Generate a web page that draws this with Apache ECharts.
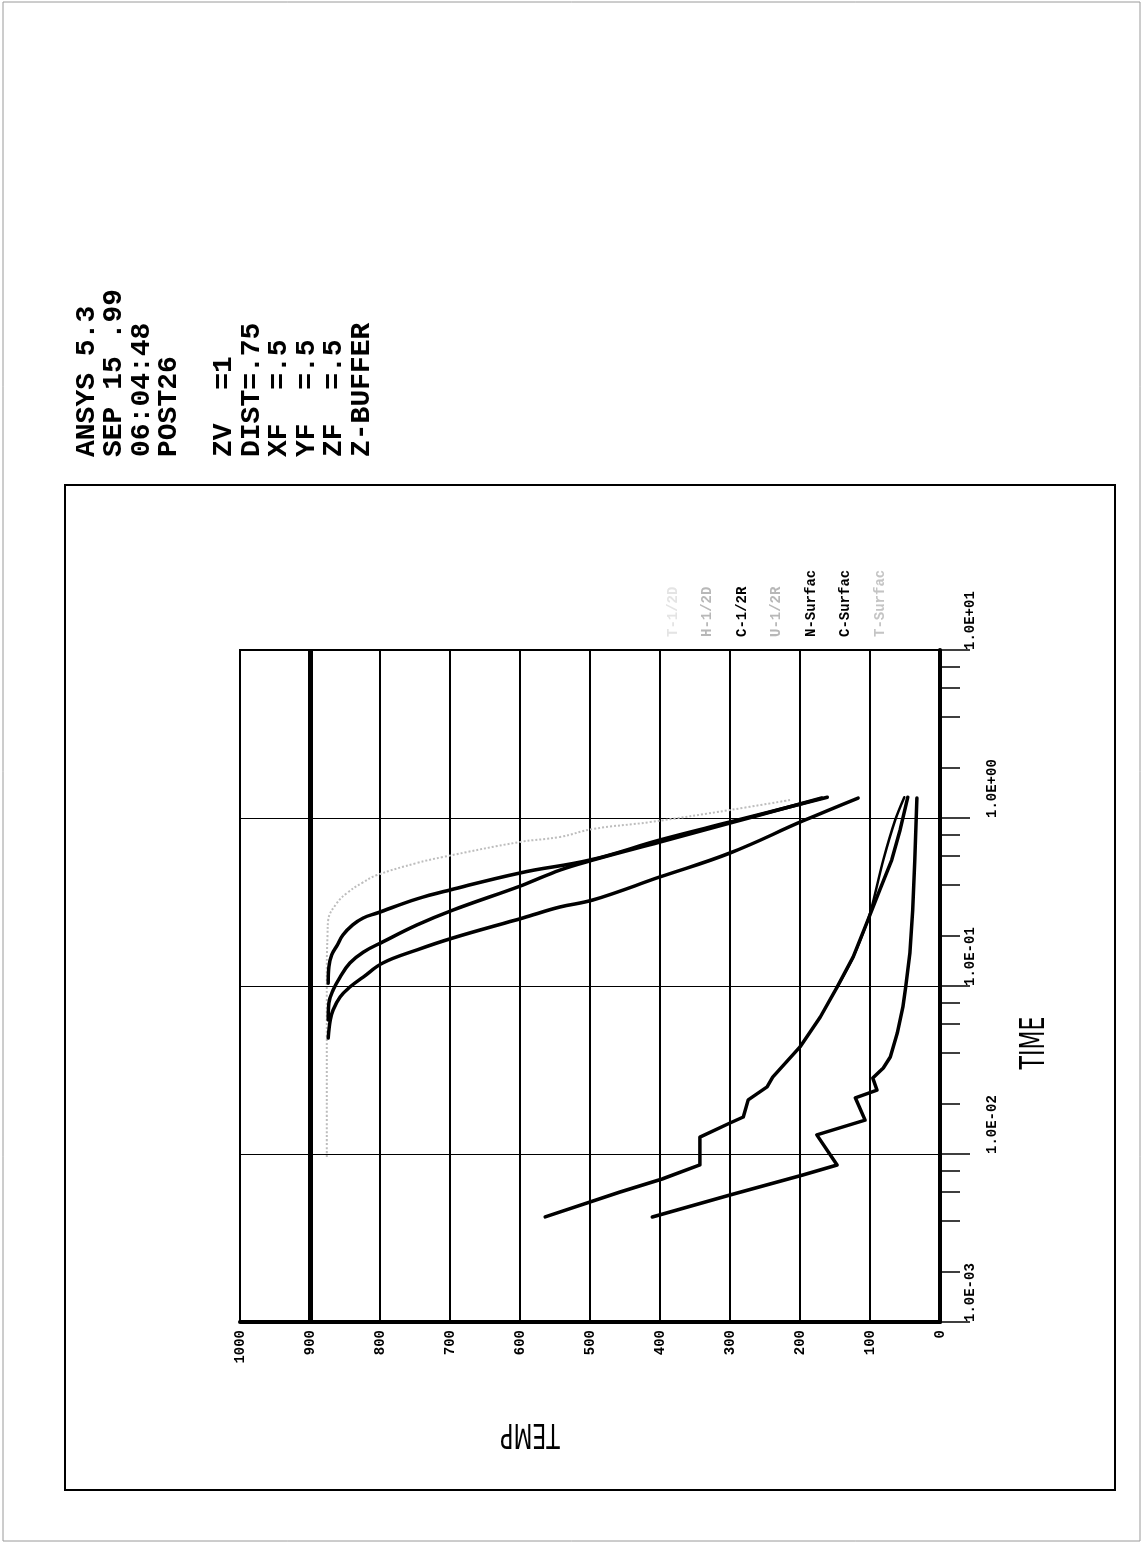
<!DOCTYPE html>
<html><head><meta charset="utf-8">
<script src="https://cdn.jsdelivr.net/npm/echarts@6/dist/echarts.min.js"></script>
<style>html,body{margin:0;padding:0;background:#fff}#c{width:1143px;height:1544px}</style>
</head><body><div id="c"></div>
<script>
// ---- data (TEMP, TIME) ----
const seriesNames = ['T-1/2D','H-1/2D','C-1/2R','U-1/2R','N-Surfac','C-Surfac','T-Surfac'];
const half_T = [[876,0.0096],[876,0.021],[876,0.0416],[876,0.0826],[876,0.130],[875,0.2],[874,0.247],[862,0.31],[847,0.358],[826,0.41],[804,0.458],[747,0.540],[710,0.586],[600,0.72],[543,0.771],[496,0.86],[414,0.946],[300,1.116],[214,1.28]];
const half_H = [[874,0.104],[873,0.130],[869,0.153],[861,0.175],[853,0.201],[839,0.231],[824,0.254],[804,0.272],[747,0.330],[700,0.373],[600,0.471],[500,0.562],[400,0.74],[300,0.946],[161,1.33]];
const half_C = [[874,0.0628],[873,0.0792],[867,0.0946],[857,0.113],[843,0.137],[824,0.159],[796,0.183],[747,0.231],[696,0.283],[596,0.399],[543,0.49],[496,0.562],[400,0.72],[300,0.933],[169,1.315]];
const half_U = [[874,0.049],[871,0.0628],[867,0.072],[857,0.086],[843,0.0986],[824,0.113],[796,0.137],[747,0.164],[696,0.193],[596,0.254],[543,0.295],[496,0.325],[400,0.446],[300,0.619],[196,0.96],[117,1.315]];
const surf_N = [[411,0.00422],[300,0.0057],[196,0.0075],[147,0.0086],[176,0.0130],[107,0.0159],[121,0.0216],[90,0.0240],[96,0.0283],[81,0.0325],[71,0.0378],[61,0.0525],[53,0.0750],[49,0.0986],[43,0.157],[39,0.283],[36,0.562],[33,1.315]];
const surf_C = [[564,0.00422],[457,0.00594],[397,0.0071],[343,0.00861],[343,0.0126],[300,0.0153],[281,0.0166],[274,0.0210],[247,0.0251],[239,0.0287],[200,0.0434],[171,0.0654],[147,0.0986],[124,0.149],[103,0.247],[86,0.373],[69,0.562],[57,0.849],[46,1.33]];
const surf_T = [[147,0.0986],[124,0.149],[103,0.247],[96,0.312],[81,0.562],[64,0.973],[51,1.33]];
const refTemp = 900;
const timeTickExps = [-3,-2,-1,0,1];
const timeTickLabels = ['1.0E-03','1.0E-02','1.0E-01','1.0E+00','1.0E+01'];
const timeMinorTicks = [0.002,0.004,0.006,0.008,0.02,0.04,0.06,0.08,0.2,0.4,0.6,0.8,2,4,6,8];
const infoLines = ['ANSYS 5.3','SEP 15 .99','06:04:48','POST26','','ZV  =1','DIST=.75','XF  =.5','YF  =.5','ZF  =.5','Z-BUFFER'];
const legendColors = ['#e4e4e4','#b8b8b8','#000','#b8b8b8','#000','#000','#c4c4c4'];

// ---- chart ----
const chart = echarts.init(document.getElementById('c'), null, {renderer:'canvas'});
const MONO = '"Liberation Mono", "DejaVu Sans Mono", monospace';
function timeLabel(v, parity){
  const e = Math.round(Math.log10(v));
  const i = timeTickExps.indexOf(e);
  if (i < 0 || Math.abs(Math.log10(v) - e) > 1e-6) return '';
  return (i % 2 === parity) ? timeTickLabels[i] : '';
}
const lineBase = (name, data, extra) => Object.assign({
  name, type:'line', data, xAxisIndex:0, yAxisIndex:0, showSymbol:false, symbol:'none',
  silent:true, animation:false,
  lineStyle:{color:'#000', width:3.5, cap:'round', join:'round'}
}, extra || {});

const legendGraphics = seriesNames.map((n,i)=>({
  type:'text', x: 673 + i*34.5, y: 637, rotation: Math.PI/2, silent:true,
  style:{text:n, font:'bold 14px ' + MONO, fill: legendColors[i], align:'left', verticalAlign:'middle'}
}));

chart.setOption({
  animation:false,
  backgroundColor:'#fff',
  grid:{left:240, right:203, top:650, bottom:222, show:true, borderColor:'#000', borderWidth:2, backgroundColor:'transparent'},
  xAxis:{
    type:'value', inverse:true, min:0, max:1000, interval:100, position:'bottom',
    axisLine:{show:true, lineStyle:{color:'#000', width:4}},
    axisTick:{show:false},
    splitLine:{show:true, lineStyle:{color:'#000', width:2}},
    axisLabel:{rotate:90, margin:8, color:'#000', fontFamily:MONO, fontWeight:'bold', fontSize:14,
      formatter:v=>String(v)}
  },
  yAxis:[
    {type:'log', logBase:10, min:0.001, max:10, position:'right',
     axisLine:{show:true, lineStyle:{color:'#000', width:4}},
     axisTick:{show:true, length:30, lineStyle:{color:'#000', width:1.5}},
     splitLine:{show:true, lineStyle:{color:'#000', width:1}},
     axisLabel:{rotate:90, align:'left', verticalAlign:'middle', margin:30, color:'#000',
       fontFamily:MONO, fontWeight:'bold', fontSize:14, showMinLabel:true, showMaxLabel:true,
       formatter:v=>timeLabel(v,0)}},
    {type:'log', logBase:10, min:0.001, max:10, position:'right', offset:0,
     axisLine:{show:false},
     axisTick:{show:true, length:20, customValues:timeMinorTicks, lineStyle:{color:'#000', width:1.5}},
     splitLine:{show:false},
     axisLabel:{rotate:90, align:'left', verticalAlign:'middle', margin:52, color:'#000',
       fontFamily:MONO, fontWeight:'bold', fontSize:14, showMinLabel:true, showMaxLabel:true,
       formatter:v=>timeLabel(v,1)}}
  ],
  series:[
    lineBase(seriesNames[0], half_T, {smooth:0.4, lineStyle:{color:'#bdbdbd', width:2, type:'dotted'},
      markLine:{silent:true, symbol:['none','none'], label:{show:false},
        lineStyle:{color:'#000', width:5, type:'solid'}, data:[{xAxis:refTemp}]}}),
    lineBase(seriesNames[1], half_H, {smooth:0.4}),
    lineBase(seriesNames[2], half_C, {smooth:0.4}),
    lineBase(seriesNames[3], half_U, {smooth:0.4}),
    lineBase(seriesNames[4], surf_N),
    lineBase(seriesNames[5], surf_C),
    lineBase(seriesNames[6], surf_T, {smooth:0.3, lineStyle:{color:'#000', width:2.5, cap:'round'}})
  ],
  graphic:[
    {type:'rect', silent:true, shape:{x:3,y:2,width:1137,height:1539}, style:{fill:'none', stroke:'#9a9a9a', lineWidth:1}},
    {type:'rect', silent:true, shape:{x:65,y:485,width:1050,height:1005}, style:{fill:'none', stroke:'#000', lineWidth:2}},
    {type:'text', silent:true, x:73, y:457, rotation:Math.PI/2,
      style:{text:infoLines.join('\n'), font:'bold 28px ' + MONO, lineHeight:27.5, fill:'#000', align:'left', verticalAlign:'top'}},
    {type:'text', silent:true, x:1035, y:1043, rotation:Math.PI/2, scaleY:1.5,
      style:{text:'TIME', font:'22px "DejaVu Sans", sans-serif', fill:'#000', align:'center', verticalAlign:'middle'}},
    {type:'text', silent:true, x:530, y:1433, rotation:Math.PI, scaleY:1.5,
      style:{text:'TEMP', font:'22px "DejaVu Sans", sans-serif', fill:'#000', align:'center', verticalAlign:'middle'}}
  ].concat(legendGraphics)
});
</script></body></html>
